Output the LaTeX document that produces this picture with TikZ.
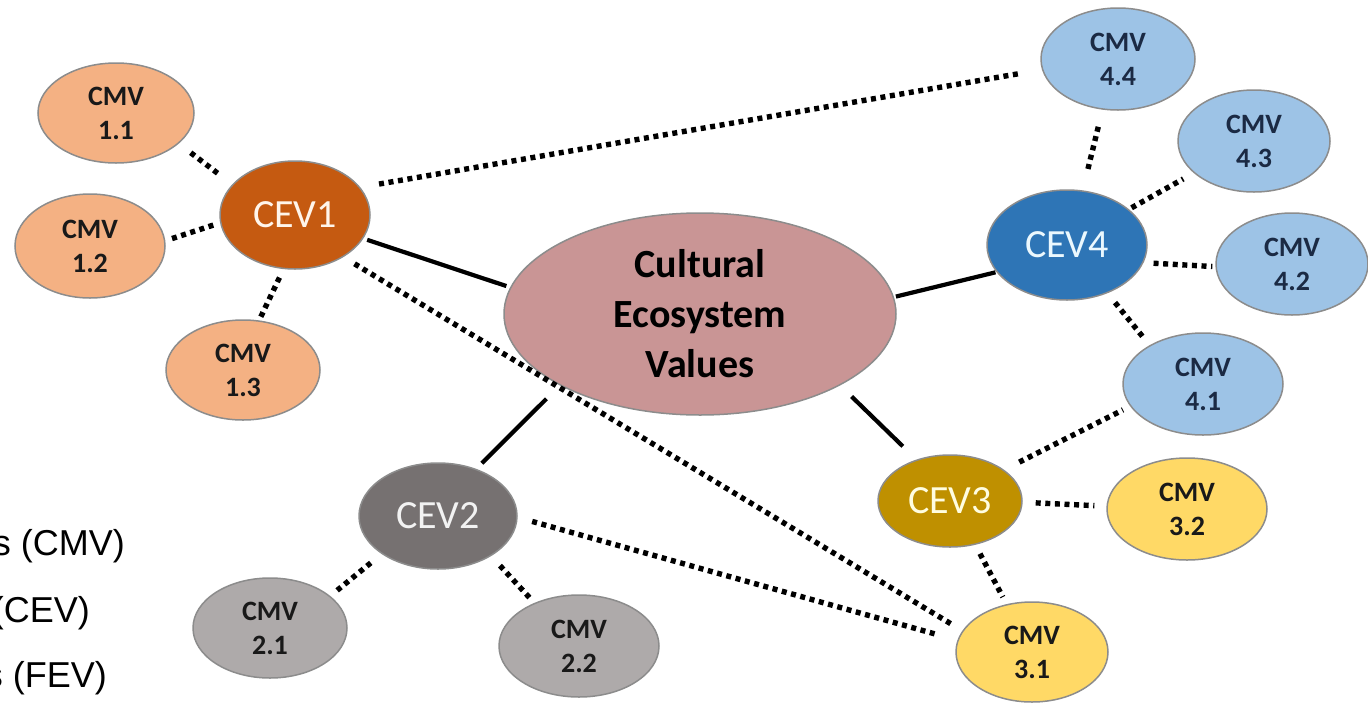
\documentclass[tikz,border=0pt]{standalone}
\usepackage{fontspec}
\setmainfont{Carlito}
\newfontfamily\legendfont{Liberation Sans}
\usetikzlibrary{shapes.geometric}
\definecolor{bordergray}{HTML}{8C8C8C}
\definecolor{cmvorange}{HTML}{F4B183}
\definecolor{cevorange}{HTML}{C55A11}
\definecolor{centralfill}{HTML}{C99595}
\definecolor{cevgray}{HTML}{767171}
\definecolor{cmvgray}{HTML}{AEAAAA}
\definecolor{cevgold}{HTML}{BF9000}
\definecolor{cmvyellow}{HTML}{FFD966}
\definecolor{cevblue}{HTML}{2E75B6}
\definecolor{cmvblue}{HTML}{9DC3E6}
\definecolor{navytext}{HTML}{1B2A44}
\begin{document}
\begin{tikzpicture}[x=1pt,y=-1pt,
  oval/.style={ellipse, draw=bordergray, line width=1.5pt, inner sep=0pt, align=center},
  cmv/.style={oval, font=\fontsize{28}{34}\selectfont\bfseries, text=black!90},
  cev/.style={oval, font=\fontsize{40}{44}\selectfont},
  dotline/.style={line width=5.4pt, dash pattern=on 5pt off 4.6pt, black},
  solidline/.style={line width=4.2pt, black},
  legend/.style={font=\legendfont\fontsize{36}{40}\selectfont, anchor=base east, inner sep=0pt}
]
\useasboundingbox (0,0) rectangle (1368,702);
\clip (0,0) rectangle (1368,702);

% central
\node[oval, fill=centralfill, minimum width=392pt, minimum height=202pt,
      font=\fontsize{40}{50}\selectfont\bfseries] (cen) at (700,314) {Cultural\\Ecosystem\\Values};

% CEV1 group
\node[cev, fill=cevorange, text=orange!8, minimum width=150pt, minimum height=108pt] (cev1) at (295,215) {CEV1};
\node[cmv, fill=cmvorange, minimum width=156pt, minimum height=100pt] (c11) at (116,113) {CMV\\1.1};
\node[cmv, fill=cmvorange, minimum width=150pt, minimum height=104pt] (c12) at (90,246) {CMV\\1.2};
\node[cmv, fill=cmvorange, minimum width=154pt, minimum height=100pt] (c13) at (243,370) {CMV\\1.3};

% CEV2 group
\node[cev, fill=cevgray, text=white!95!black, minimum width=158pt, minimum height=106pt] (cev2) at (438,516) {CEV2};
\node[cmv, fill=cmvgray, minimum width=154pt, minimum height=100pt] (c21) at (270,628) {CMV\\2.1};
\node[cmv, fill=cmvgray, minimum width=160pt, minimum height=102pt] (c22) at (579,646) {CMV\\2.2};

% CEV3 group
\node[cev, fill=cevgold, text=yellow!12, minimum width=144pt, minimum height=92pt] (cev3) at (950,501) {CEV3};
\node[cmv, fill=cmvyellow, minimum width=160pt, minimum height=102pt] (c32) at (1187,509) {CMV\\3.2};
\node[cmv, fill=cmvyellow, minimum width=152pt, minimum height=100pt] (c31) at (1032,652) {CMV\\3.1};

% CEV4 group
\node[cev, fill=cevblue, text=cyan!8, minimum width=160pt, minimum height=110pt] (cev4) at (1067,245) {CEV4};
\node[cmv, fill=cmvblue, text=navytext, minimum width=160pt, minimum height=102pt] (c41) at (1203,384) {CMV\\4.1};
\node[cmv, fill=cmvblue, text=navytext, minimum width=152pt, minimum height=102pt] (c42) at (1292,264) {CMV\\4.2};
\node[cmv, fill=cmvblue, text=navytext, minimum width=152pt, minimum height=102pt] (c43) at (1254,141) {CMV\\4.3};
\node[cmv, fill=cmvblue, text=navytext, minimum width=154pt, minimum height=102pt] (c44) at (1118,59) {CMV\\4.4};

% solid connectors
\draw[solidline, shorten <=4pt, shorten >=4pt] (cev1.-19) -- (cen.172);
\draw[solidline, shorten <=19pt, shorten >=8pt] (cen.207) -- (cev2.51);
\draw[solidline, shorten <=16pt, shorten >=19pt] (cen.-27) -- (cev3.129);
\draw[solidline, shorten <=2pt, shorten >=1pt] (cen.5) -- (cev4.201);

% dotted connectors, CEV1
\draw[dotline, shorten <=15pt, shorten >=17pt] (c11.-26) -- (cev1.154);
\draw[dotline, shorten <=7pt, shorten >=6pt] (c12.4) -- (cev1.186);
\draw[dotline, shorten <=4pt, shorten >=5pt] (c13.72) -- (cev1.258);
\draw[dotline, shorten <=19pt, shorten >=21pt] (cev1.23) -- (c44.188);
\draw[dotline, shorten <=13pt, shorten >=10pt] (cev1.-41) -- (c31.163);

% CEV2
\draw[dotline, shorten <=15pt, shorten >=20pt] (cev2.-1) -- (c31.171);
\draw[dotline, shorten <=14pt, shorten >=7pt] (cev2.214) -- (c21.28);
\draw[dotline, shorten <=13pt, shorten >=5pt] (cev2.-37) -- (c22.136);

% CEV3
\draw[dotline, shorten <=17pt, shorten >=8pt] (cev3.30) -- (c41.197);
\draw[dotline, shorten <=13pt, shorten >=12pt] (cev3.-1) -- (c32.178);
\draw[dotline, shorten <=10pt, shorten >=8pt] (cev3.-60) -- (c31.118);

% CEV4
\draw[dotline, shorten <=22pt, shorten >=17pt] (cev4.74) -- (c44.253);
\draw[dotline, shorten <=3pt, shorten >=12pt] (cev4.30) -- (c43.208);
\draw[dotline, shorten <=10pt, shorten >=3pt] (cev4.-13) -- (c42.182);
\draw[dotline, shorten <=12pt, shorten >=9pt] (cev4.-50) -- (c41.144);

% legend (cut off at the left edge, as in the reference)
\node[legend] (l1) at (125,555) {s (CMV)};
\node[legend] (l2) at (90,622) {(CEV)};
\node[legend] (l3) at (107,687) {s (FEV)};
\end{tikzpicture}
\end{document}
